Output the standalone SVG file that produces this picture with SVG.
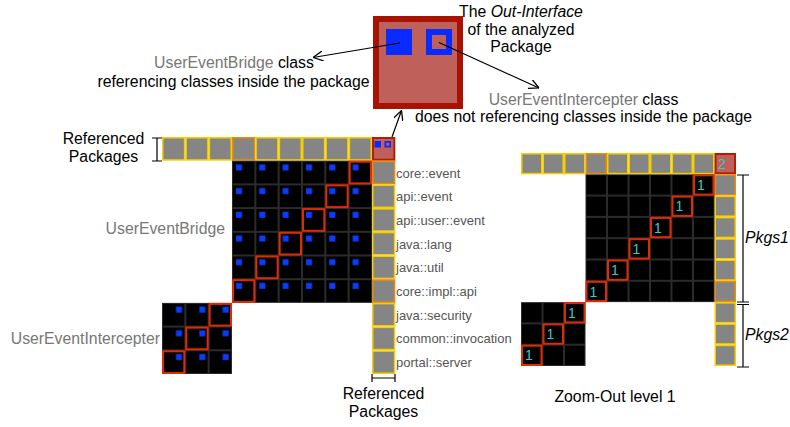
<svg xmlns="http://www.w3.org/2000/svg" xmlns:xlink="http://www.w3.org/1999/xlink" width="790" height="427" viewBox="0 0 790 427">
<style>
text{font-family:"Liberation Sans",Arial,sans-serif;}
.t{font-size:15.8px;fill:#000;}
.gr{fill:#777;}
.lab{font-size:13px;fill:#555;}
.one{font-size:14px;fill:#3cc8c8;}
.hl{fill:none;stroke:#e02a00;stroke-width:2;}
.br{stroke:#000;stroke-width:1.2;fill:none;}
.ar{stroke:#000;stroke-width:1.2;fill:none;marker-end:url(#ah);}
</style>
<defs>
<marker id="ah" viewBox="0 0 10 10" refX="10" refY="5" markerWidth="10" markerHeight="10" markerUnits="userSpaceOnUse" orient="auto"><path d="M0,0 L10,5 L0,10" fill="none" stroke="#000" stroke-width="1.3"/></marker>
<rect id="lgY" x="0.75" y="0.75" width="21.83" height="22.2" fill="#858585" stroke="#f7cf00" stroke-width="1.5"/>
<rect id="lgO" x="0.75" y="0.75" width="21.83" height="22.2" fill="#858585" stroke="#f08a00" stroke-width="1.5"/>
<rect id="rgY" x="0.75" y="0.75" width="20" height="19.8" fill="#858585" stroke="#f7cf00" stroke-width="1.5"/>
<rect id="rgO" x="0.75" y="0.75" width="20" height="19.8" fill="#858585" stroke="#f08a00" stroke-width="1.5"/>
<rect id="lh" x="1" y="1" width="21.33" height="21.7" class="hl"/>
<rect id="rh" x="1" y="1" width="19.5" height="19.3" class="hl"/>
<pattern id="pLM" patternUnits="userSpaceOnUse" x="162" y="137" width="23.33" height="23.7">
<rect x="0.5" y="0.5" width="22.33" height="22.7" fill="#000" stroke="#2b2b2b" stroke-width="1"/>
<rect x="4" y="3.7" width="6" height="6" fill="#0a3cff"/>
</pattern>
<pattern id="pLS" patternUnits="userSpaceOnUse" x="162" y="137" width="23.33" height="23.7">
<rect x="0.5" y="0.5" width="22.33" height="22.7" fill="#000" stroke="#2b2b2b" stroke-width="1"/>
<rect x="14" y="3.7" width="6" height="6" fill="#0a3cff"/>
</pattern>
<pattern id="pR" patternUnits="userSpaceOnUse" x="521" y="153" width="21.5" height="21.3">
<rect x="0.5" y="0.5" width="20.5" height="20.3" fill="#000" stroke="#2b2b2b" stroke-width="1"/>
</pattern>
</defs>
<rect width="790" height="427" fill="#fff"/>

<!-- Enlarged package -->
<g id="package">
<rect x="376" y="19" width="84" height="87" fill="#c0605a" stroke="#a81200" stroke-width="6"/>
<rect x="386" y="29" width="26" height="26" fill="#0a2bff"/>
<rect x="426" y="29" width="26" height="26" fill="#0a2bff"/>
<rect x="432" y="35" width="14" height="14" fill="#c0605a"/>
</g>

<g id="top-labels">
<text class="t" x="521" y="17" text-anchor="middle">The <tspan font-style="italic">Out-Interface</tspan></text>
<text class="t" x="521" y="35" text-anchor="middle">of the analyzed</text>
<text class="t" x="521" y="52" text-anchor="middle">Package</text>
<text class="t" x="234" y="68" text-anchor="middle"><tspan class="gr">UserEventBridge</tspan> class</text>
<text class="t" x="233.5" y="87" text-anchor="middle">referencing classes inside the package</text>
<text class="t" x="583.5" y="104.5" text-anchor="middle"><tspan class="gr">UserEventIntercepter</tspan> class</text>
<text class="t" x="583.5" y="122" text-anchor="middle">does not referencing classes inside the package</text>
</g>

<!-- Left matrix -->
<g id="left-top-row">
<use href="#lgY" x="162" y="137"/>
<use href="#lgY" x="185.33" y="137"/>
<use href="#lgY" x="208.67" y="137"/>
<use href="#lgO" x="232" y="137"/>
<use href="#lgY" x="255.33" y="137"/>
<use href="#lgY" x="278.67" y="137"/>
<use href="#lgY" x="302" y="137"/>
<use href="#lgY" x="325.33" y="137"/>
<use href="#lgY" x="348.67" y="137"/>
</g>
<g id="left-package-cell">
<rect x="373" y="138" width="21.33" height="21.7" fill="#c0605a" stroke="#b02000" stroke-width="2"/>
<rect x="374.5" y="141" width="6.5" height="6.5" fill="#0a2bff"/>
<rect x="384.5" y="141" width="6.5" height="6.5" fill="#0a2bff"/>
<rect x="386.3" y="142.8" width="2.9" height="2.9" fill="#c0605a"/>
</g>
<g id="left-right-column">
<use href="#lgO" x="372" y="160.7"/>
<use href="#lgY" x="372" y="184.4"/>
<use href="#lgY" x="372" y="208.1"/>
<use href="#lgY" x="372" y="231.8"/>
<use href="#lgY" x="372" y="255.5"/>
<use href="#lgO" x="372" y="279.2"/>
<use href="#lgY" x="372" y="302.9"/>
<use href="#lgY" x="372" y="326.6"/>
<use href="#lgY" x="372" y="350.3"/>
</g>
<g id="UserEventBridge">
<rect x="232" y="160.7" width="140" height="142.2" fill="url(#pLM)"/>
<use href="#lh" x="348.67" y="160.7"/>
<use href="#lh" x="325.33" y="184.4"/>
<use href="#lh" x="302" y="208.1"/>
<use href="#lh" x="278.67" y="231.8"/>
<use href="#lh" x="255.33" y="255.5"/>
<use href="#lh" x="232" y="279.2"/>
<text class="t gr" x="225" y="234" text-anchor="end">UserEventBridge</text>
</g>
<g id="UserEventIntercepter">
<rect x="162" y="302.9" width="70" height="71.1" fill="url(#pLS)"/>
<use href="#lh" x="208.67" y="302.9"/>
<use href="#lh" x="185.33" y="326.6"/>
<use href="#lh" x="162" y="350.3"/>
<text class="t gr" x="160" y="344" text-anchor="end">UserEventIntercepter</text>
</g>
<g id="package-labels">
<text class="lab" x="396" y="177.5">core::event</text>
<text class="lab" x="396" y="201.2">api::event</text>
<text class="lab" x="396" y="224.9">api::user::event</text>
<text class="lab" x="396" y="248.6">java::lang</text>
<text class="lab" x="396" y="272.3">java::util</text>
<text class="lab" x="396" y="296">core::impl::api</text>
<text class="lab" x="396" y="319.7">java::security</text>
<text class="lab" x="396" y="343.4">common::invocation</text>
<text class="lab" x="396" y="367.1">portal::server</text>
</g>
<g id="left-brackets">
<path class="br" d="M157,138 V161 M152,138 H162 M152,161 H162"/>
<text class="t" x="103.5" y="144" text-anchor="middle">Referenced</text>
<text class="t" x="103.5" y="162" text-anchor="middle">Packages</text>
<path class="br" d="M372,378 H395 M372,374 V382 M395,374 V382"/>
<text class="t" x="383.5" y="399" text-anchor="middle">Referenced</text>
<text class="t" x="383.5" y="417" text-anchor="middle">Packages</text>
</g>

<!-- Right matrix (zoom-out) -->
<g id="right-top-row">
<use href="#rgY" x="521" y="153"/>
<use href="#rgY" x="542.5" y="153"/>
<use href="#rgY" x="564" y="153"/>
<use href="#rgO" x="585.5" y="153"/>
<use href="#rgY" x="607" y="153"/>
<use href="#rgY" x="628.5" y="153"/>
<use href="#rgY" x="650" y="153"/>
<use href="#rgY" x="671.5" y="153"/>
<use href="#rgY" x="693" y="153"/>
</g>
<g id="right-package-cell">
<rect x="715.5" y="154" width="19.5" height="19.3" fill="#c0605a" stroke="#b02000" stroke-width="2"/>
<text class="one" x="718" y="169">2</text>
</g>
<g id="right-right-column">
<use href="#rgO" x="714.5" y="174.3"/>
<use href="#rgY" x="714.5" y="195.6"/>
<use href="#rgY" x="714.5" y="216.9"/>
<use href="#rgY" x="714.5" y="238.2"/>
<use href="#rgY" x="714.5" y="259.5"/>
<use href="#rgO" x="714.5" y="280.8"/>
<use href="#rgY" x="714.5" y="302.1"/>
<use href="#rgY" x="714.5" y="323.4"/>
<use href="#rgY" x="714.5" y="344.7"/>
</g>
<g id="right-main">
<rect x="585.5" y="174.3" width="129" height="127.8" fill="url(#pR)"/>
<use href="#rh" x="693" y="174.3"/><text class="one" x="697" y="190">1</text>
<use href="#rh" x="671.5" y="195.6"/><text class="one" x="675.5" y="211.3">1</text>
<use href="#rh" x="650" y="216.9"/><text class="one" x="654" y="232.6">1</text>
<use href="#rh" x="628.5" y="238.2"/><text class="one" x="632.5" y="253.9">1</text>
<use href="#rh" x="607" y="259.5"/><text class="one" x="611" y="275.2">1</text>
<use href="#rh" x="585.5" y="280.8"/><text class="one" x="589.5" y="296.5">1</text>
</g>
<g id="right-small">
<rect x="521" y="302.1" width="64.5" height="63.9" fill="url(#pR)"/>
<use href="#rh" x="564" y="302.1"/><text class="one" x="568" y="317.8">1</text>
<use href="#rh" x="542.5" y="323.4"/><text class="one" x="546.5" y="339.1">1</text>
<use href="#rh" x="521" y="344.7"/><text class="one" x="525" y="360.4">1</text>
</g>
<g id="right-brackets">
<path class="br" d="M743,175 V302 M737,175 H749 M737,302 H749"/>
<path class="br" d="M743,304.5 V367 M737,304.5 H749 M737,367 H749"/>
<text class="t" x="745" y="243" font-style="italic">Pkgs1</text>
<text class="t" x="745" y="340" font-style="italic">Pkgs2</text>
<text class="t" x="615" y="402" text-anchor="middle">Zoom-Out level 1</text>
</g>

<g id="connectors">
<path class="ar" d="M400,43 L313,57.5"/>
<path class="ar" d="M439,42.5 L539,88"/>
<path class="ar" d="M392,137 L401.5,110.5"/>
</g>
</svg>
